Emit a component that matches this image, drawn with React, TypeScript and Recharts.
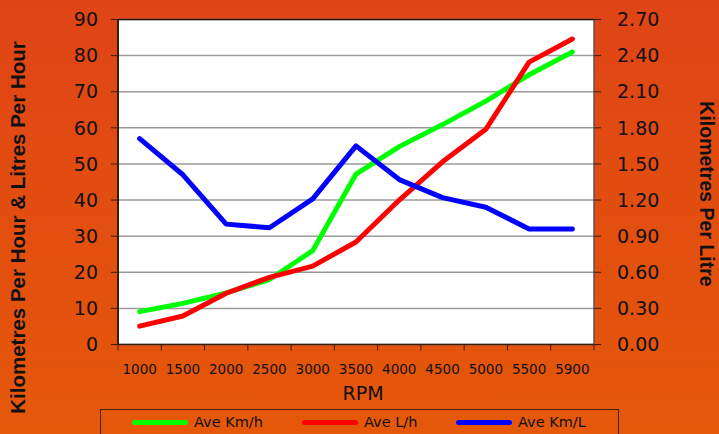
import React from 'react';
import {
  LineChart,
  Line,
  XAxis,
  YAxis,
  CartesianGrid,
  Legend,
  ReferenceLine,
} from 'recharts';

const rpmLabels = ['1000', '1500', '2000', '2500', '3000', '3500', '4000', '4500', '5000', '5500', '5900'];
const kmPerHour = [9.1, 11.4, 14.3, 18.0, 26.0, 47.2, 54.8, 60.9, 67.4, 74.7, 81.0];
const litresPerHour = [5.1, 7.9, 14.2, 18.6, 21.7, 28.4, 40.0, 50.6, 59.6, 78.2, 84.6];
const kmPerLitre = [1.71, 1.41, 1.0, 0.97, 1.21, 1.65, 1.37, 1.22, 1.14, 0.96, 0.96];

const leftTicks = [0, 10, 20, 30, 40, 50, 60, 70, 80, 90];
const rightTicks = [0, 0.3, 0.6, 0.9, 1.2, 1.5, 1.8, 2.1, 2.4, 2.7];

const seriesInfo = [
  { key: 'kmh', name: 'Ave Km/h', color: '#00ff00' },
  { key: 'lph', name: 'Ave L/h', color: '#ff0000' },
  { key: 'kml', name: 'Ave Km/L', color: '#0000ff' },
];

// x sits in the middle of each category band, boundaries at whole numbers
const data = rpmLabels.map((r, i) => ({
  x: i + 0.5,
  rpm: r,
  kmh: kmPerHour[i],
  lph: litresPerHour[i],
  kml: kmPerLitre[i],
}));

const boundaryTicks = rpmLabels.map((_, i) => i).concat([rpmLabels.length]);
const centreTicks = rpmLabels.map((_, i) => i + 0.5);

const tickFont = { fontFamily: '"DejaVu Sans", Verdana, sans-serif', fill: '#111' };
const titleFont = '"Liberation Sans", Arial, sans-serif';

function LegendBox() {
  return (
    <div
      style={{
        border: '1px solid #4a2208',
        height: 40,
        boxSizing: 'border-box',
        display: 'flex',
        fontFamily: '"DejaVu Sans", Verdana, sans-serif',
        fontSize: 14.5,
        color: '#111',
        paddingTop: 4,
      }}
    >
      {seriesInfo.map((s, i) => (
        <span
          key={s.key}
          style={{
            display: 'inline-flex',
            alignItems: 'center',
            position: 'absolute',
            left: [32, 202, 356][i],
            top: 5,
          }}
        >
          <span
            style={{
              width: 56,
              height: 5,
              borderRadius: 3,
              background: s.color,
              display: 'inline-block',
              marginRight: 6,
            }}
          />
          {s.name}
        </span>
      ))}
    </div>
  );
}

export default function App() {
  return (
    <div
      style={{
        position: 'absolute',
        left: 0,
        top: 0,
        width: 719,
        height: 434,
        overflow: 'hidden',
        background: 'linear-gradient(180deg, #df4416 0%, #e24e10 50%, #e5580a 100%)',
      }}
    >
      <LineChart
        width={719}
        height={434}
        data={data}
        margin={{ top: 19.5, right: 0, bottom: 21.5, left: 0 }}
      >
        <CartesianGrid
          xAxisId="grid"
          yAxisId="left"
          vertical={false}
          stroke="#9a9a9a"
          strokeWidth={1.5}
          fill="#ffffff"
          fillOpacity={1}
        />
        <XAxis
          xAxisId="grid"
          type="number"
          dataKey="x"
          domain={[0, rpmLabels.length]}
          ticks={boundaryTicks}
          tickFormatter={() => ''}
          tickSize={6}
          height={8}
          axisLine={{ stroke: '#3b1a08', strokeWidth: 1.5 }}
          tickLine={{ stroke: '#3b1a08' }}
        />
        <XAxis
          xAxisId="labels"
          type="number"
          dataKey="x"
          domain={[0, rpmLabels.length]}
          ticks={centreTicks}
          tickFormatter={(v: number) => rpmLabels[Math.floor(v)]}
          axisLine={false}
          tickLine={false}
          tickSize={0}
          tickMargin={11.5}
          height={60}
          interval={0}
          tick={{ ...tickFont, fontSize: 13.5 }}
          label={{
            value: 'RPM',
            position: 'insideBottom',
            offset: 12.5,
            dx: 7,
            style: { fontFamily: tickFont.fontFamily, fontSize: 19, fill: '#111' },
          }}
        />
        <YAxis
          yAxisId="left"
          orientation="left"
          width={118}
          domain={[0, 90]}
          ticks={leftTicks}
          interval={0}
          tickSize={7}
          tickMargin={13}
          tick={{ ...tickFont, fontSize: 19 }}
          axisLine={{ stroke: '#3b1a08', strokeWidth: 2 }}
          tickLine={{ stroke: '#3b1a08' }}
          label={{
            content: (p: any) => {
              const vb = p.viewBox;
              const cx = vb.x + 17.5;
              const cy = 227.5;
              return (
                <text
                  x={cx}
                  y={cy}
                  transform={`rotate(-90 ${cx} ${cy})`}
                  textAnchor="middle"
                  dominantBaseline="central"
                  style={{ fontFamily: titleFont, fontWeight: 700, fontSize: 20.5, fill: '#111' }}
                >
                  Kilometres Per Hour &amp; Litres Per Hour
                </text>
              );
            },
          }}
        />
        <YAxis
          yAxisId="right"
          orientation="right"
          width={125}
          domain={[0, 2.7]}
          ticks={rightTicks}
          interval={0}
          tickSize={7}
          tickMargin={16}
          tickFormatter={(v: number) => v.toFixed(2)}
          tick={{ ...tickFont, fontSize: 19 }}
          axisLine={{ stroke: '#555', strokeWidth: 1.5 }}
          tickLine={{ stroke: '#3b1a08' }}
          label={{
            content: (p: any) => {
              const vb = p.viewBox;
              const cx = vb.x + vb.width - 12;
              const cy = 194;
              return (
                <text
                  x={cx}
                  y={cy}
                  transform={`rotate(90 ${cx} ${cy})`}
                  textAnchor="middle"
                  dominantBaseline="central"
                  style={{ fontFamily: titleFont, fontWeight: 700, fontSize: 19.5, fill: '#111' }}
                >
                  Kilometres Per Litre
                </text>
              );
            },
          }}
        />
        <ReferenceLine xAxisId="grid" yAxisId="left" y={90} stroke="#2a1508" strokeWidth={1.5} />
        <Line
          xAxisId="grid"
          yAxisId="left"
          dataKey="kmh"
          name="Ave Km/h"
          stroke="#00ff00"
          strokeWidth={5}
          strokeLinecap="round"
          strokeLinejoin="round"
          dot={false}
          type="linear"
          isAnimationActive={false}
        />
        <Line
          xAxisId="grid"
          yAxisId="left"
          dataKey="lph"
          name="Ave L/h"
          stroke="#ff0000"
          strokeWidth={5}
          strokeLinecap="round"
          strokeLinejoin="round"
          dot={false}
          type="linear"
          isAnimationActive={false}
        />
        <Line
          xAxisId="grid"
          yAxisId="right"
          dataKey="kml"
          name="Ave Km/L"
          stroke="#0000ff"
          strokeWidth={5}
          strokeLinecap="round"
          strokeLinejoin="round"
          dot={false}
          type="linear"
          isAnimationActive={false}
        />
        <Legend
          layout="horizontal"
          verticalAlign="middle"
          content={() => <LegendBox />}
          wrapperStyle={{ left: 100, top: 409, width: 519, bottom: 'auto' }}
        />
      </LineChart>
    </div>
  );
}
